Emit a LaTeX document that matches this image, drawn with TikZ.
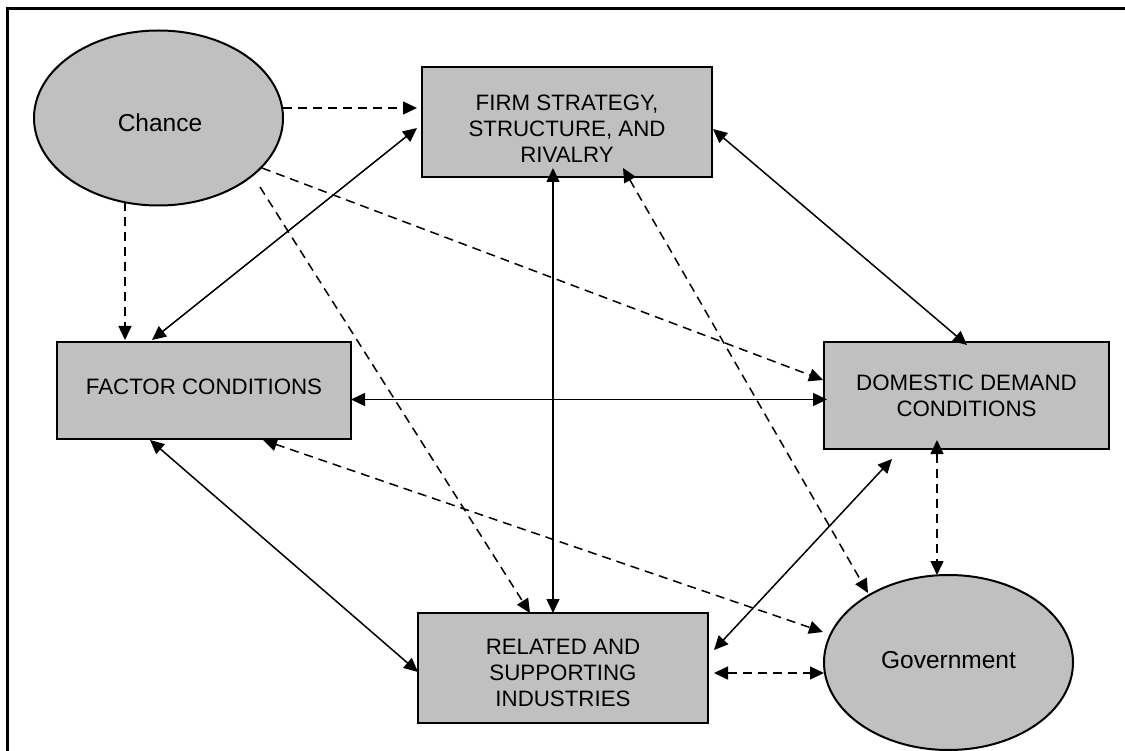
\documentclass[tikz,border=0pt]{standalone}
\usepackage{fontspec}
\setmainfont{Liberation Sans}
\usetikzlibrary{arrows.meta,shapes.geometric,calc}
\definecolor{nodegray}{RGB}{192,192,192}
\begin{document}
\begin{tikzpicture}[x=1pt,y=-1pt,
  >={Triangle[length=14pt,width=13pt]},
  shapebase/.style={draw=black,line width=2pt,fill=nodegray,inner sep=0pt,outer sep=0pt},
  forcebox/.style={shapebase,rectangle},
  actor/.style={shapebase,ellipse,minimum width=249pt,minimum height=175pt},
  boxtext/.style={align=center,inner sep=0pt,font=\fontsize{22.3}{26}\selectfont},
  actortext/.style={inner sep=0pt,font=\fontsize{24.5}{28}\selectfont},
  link/.style={line width=1.5pt},
  influence/.style={line width=1.5pt,dash pattern=on 9pt off 6pt}]

\useasboundingbox (0,0) rectangle (1125,751);
\clip (0,0) rectangle (1125,751);
\fill[white] (0,0) rectangle (1125,751);

% outer frame (only its top and left sides fall inside the page)
\draw[line width=2.5pt] (7.5,770) -- (7.5,8.7) -- (1140,8.7);

% the four determinants and the two outside actors
\node[forcebox,minimum width=290pt,minimum height=110pt] (firm) at (567,122) {};
\node[forcebox,minimum width=294pt,minimum height=97pt] (factor) at (204,390.5) {};
\node[forcebox,minimum width=285pt,minimum height=107pt] (demand) at (966.5,395.5) {};
\node[forcebox,minimum width=290pt,minimum height=110pt] (related) at (563,668) {};
\node[actor] (chance) at (158.5,118) {};
\node[actor] (gov) at (948.5,662.5) {};

\node[boxtext] (firm-t) at ($(firm)+(0,7)$) {FIRM STRATEGY,\\STRUCTURE, AND\\RIVALRY};
\node[boxtext] (factor-t) at ($(factor)+(0,-3.5)$) {FACTOR CONDITIONS};
\node[boxtext] (demand-t) at ($(demand)+(0,0)$) {DOMESTIC DEMAND\\CONDITIONS};
\node[boxtext] (related-t) at ($(related)+(0,5)$) {RELATED AND\\SUPPORTING\\INDUSTRIES};
\node[actortext] (chance-t) at ($(chance)+(1.5,5)$) {Chance};
\node[actortext] (gov-t) at ($(gov)+(0,-2)$) {Government};

% influence of chance
\draw[influence,->] ($(chance)+(124,-10)$) -- ($(firm)+(-150,-14)$);
\draw[influence,->] ($(chance)+(-33.5,84)$) -- ($(factor)+(-79,-50.5)$);
\draw[influence,->] ($(chance)+(103.5,50)$) -- ($(demand)+(-143.5,-15.5)$);
\draw[influence,->] ($(chance)+(101.5,69)$) -- ($(related)+(-33,-55)$);

% links among the determinants
\draw[link,<->] ($(factor)+(-52,-50.5)$) -- ($(firm)+(-150,6)$);
\draw[link,<->] ($(firm)+(-14,46)$) -- ($(related)+(-10,-55)$);
\draw[link,<->] ($(firm)+(146,7)$) -- ($(demand)+(0.5,-50.5)$);
\draw[link,<->] ($(factor)+(147,9)$) -- ($(demand)+(-139.5,4)$);
\draw[link,<->] ($(factor)+(-54,49.5)$) -- ($(related)+(-145,4)$);
\draw[link,<->] ($(related)+(151,-18)$) -- ($(demand)+(-74.5,63.5)$);

% links with government
\draw[influence,<->] ($(firm)+(56,46)$) -- ($(gov)+(-80.5,-69.5)$);
\draw[influence,<->] ($(factor)+(59,49.5)$) -- ($(gov)+(-125.5,-30.5)$);
\draw[influence,<->] ($(demand)+(-29.5,44.5)$) -- ($(gov)+(-11.5,-87.5)$);
\draw[influence,<->] ($(related)+(151,5)$) -- ($(gov)+(-124.5,10.5)$);
\end{tikzpicture}
\end{document}
